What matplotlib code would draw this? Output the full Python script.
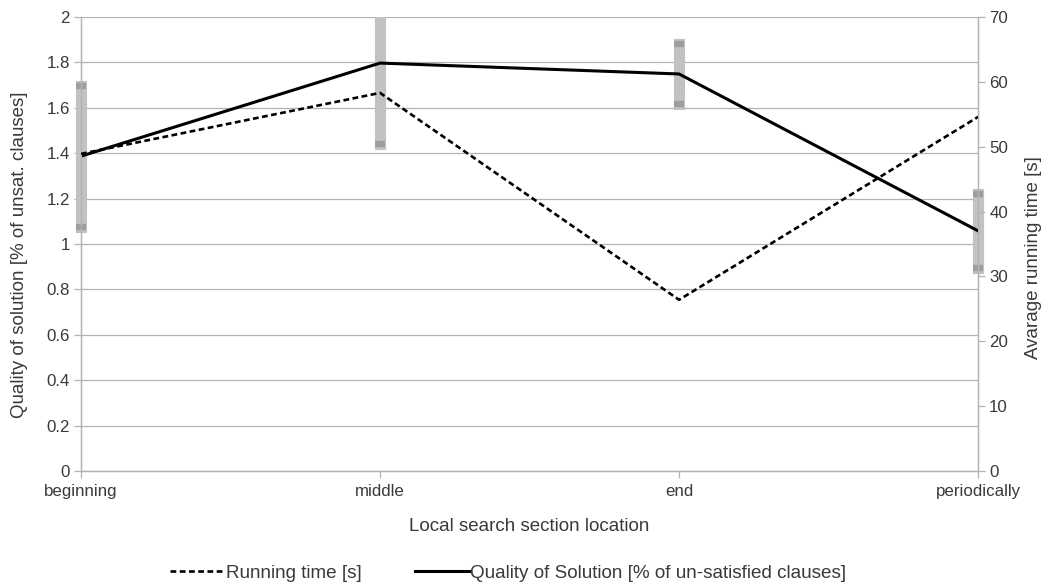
import matplotlib
matplotlib.use("Agg")
import matplotlib.pyplot as plt
from matplotlib.patches import Rectangle

plt.rcParams['font.family'] = ['Liberation Sans', 'DejaVu Sans']

categories = ["beginning", "middle", "end", "periodically"]
quality = [1.387, 1.797, 1.749, 1.058]
quality_err = [0.31, 0.357, 0.131, 0.162]
running_time = [48.9, 58.3, 26.4, 54.6]

left_ticks = [0, 0.2, 0.4, 0.6, 0.8, 1, 1.2, 1.4, 1.6, 1.8, 2]
left_labels = ["0", "0.2", "0.4", "0.6", "0.8", "1", "1.2", "1.4", "1.6", "1.8", "2"]
right_ticks = [0, 10, 20, 30, 40, 50, 60, 70]

text_color = "#3a3a3a"
grid_color = "#b3b3b3"

fig = plt.figure(figsize=(10.48, 5.86), dpi=100)
ax = fig.add_axes([0.0773, 0.1962, 0.856, 0.7748])
ax2 = ax.twinx()

x = list(range(len(categories)))

# error bars for solution quality: light bar with darker end caps
eb = ax.errorbar(x, quality, yerr=quality_err, fmt='none', ecolor='#c2c2c2',
                 elinewidth=8.0, capsize=3.8, capthick=4.6, zorder=2)
clip_rect = Rectangle((-0.05, 0), 1.1, 1, transform=ax.transAxes,
                      facecolor='none', edgecolor='none')
ax.add_patch(clip_rect)
for coll in eb[2]:
    coll.set_capstyle('projecting')
    coll.set_clip_path(clip_rect)
for cap in eb[1]:
    cap.set_markeredgecolor('#9e9e9e')
    cap.set_clip_path(clip_rect)

line_q, = ax.plot(x, quality, color='black', lw=2.2, zorder=3,
                  label="Quality of Solution [% of un-satisfied clauses]")
line_t, = ax2.plot(x, running_time, color='black', lw=1.9, ls=(0, (2.2, 1.3)),
                   zorder=3, label="Running time [s]")

ax.set_xlim(0, 3)
ax.set_ylim(0, 2)
ax2.set_ylim(0, 70)

ax.set_xticks(x)
ax.set_xticklabels(categories)
ax.set_yticks(left_ticks)
ax.set_yticklabels(left_labels)
ax2.set_yticks(right_ticks)

ax.yaxis.grid(True, color=grid_color, lw=0.9)
ax.set_axisbelow(True)

for a in (ax, ax2):
    a.spines['top'].set_visible(False)
    for side in ('left', 'right', 'bottom'):
        a.spines[side].set_color(grid_color)
        a.spines[side].set_linewidth(0.9)
    a.tick_params(axis='both', colors=grid_color, labelcolor=text_color,
                  labelsize=12.2, length=5, width=0.9, direction='out')

ax.tick_params(axis='x', pad=4)
ax.tick_params(axis='y', pad=3)
ax2.tick_params(axis='y', pad=3)
ax.set_xlabel("Local search section location", fontsize=13.5, color=text_color, labelpad=14)
ax.set_ylabel("Quality of solution [% of unsat. clauses]", fontsize=13.5, color=text_color)
ax.yaxis.set_label_coords(-0.059, 0.476)
ax2.set_ylabel("Avarage running time [s]", fontsize=13.5, color=text_color)
ax2.yaxis.set_label_coords(1.052, 0.471)

fig.legend(handles=[line_t, line_q], loc='center', bbox_to_anchor=(0.485, 0.022),
           ncol=2, frameon=False, fontsize=13.6, handlelength=2.9, handletextpad=0.05,
           columnspacing=2.8, labelcolor=text_color)

fig.savefig("out.png", dpi=100)
